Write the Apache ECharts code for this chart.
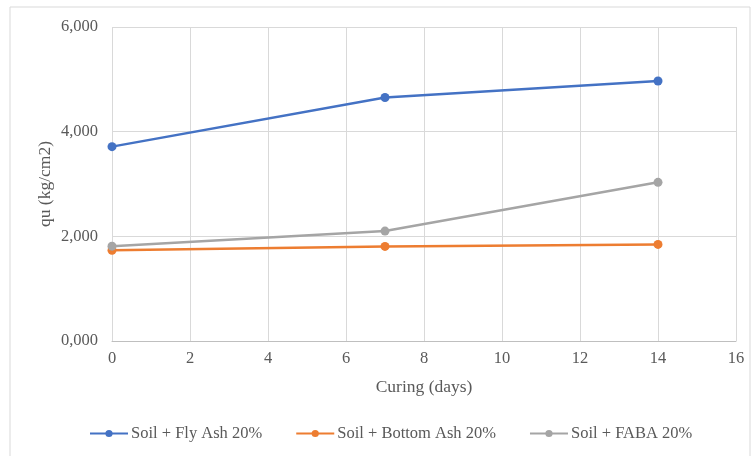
<!DOCTYPE html>
<html>
<head>
<meta charset="utf-8">
<script src="https://cdn.jsdelivr.net/npm/echarts@6/dist/echarts.min.js"></script>
<style>
  html, body { margin: 0; padding: 0; background: #fff; }
  #chart { width: 752px; height: 456px; }
</style>
</head>
<body>
<div id="chart"></div>
<script>
// Curing time (days) and unconfined compressive strength qu (kg/cm2)
const curingDays = [0, 7, 14];
const flyAsh = [3714, 4652, 4968];
const bottomAsh = [1733, 1808, 1846];
const faba = [1812, 2100, 3032];
const seriesNames = ['Soil + Fly Ash 20%', 'Soil + Bottom Ash 20%', 'Soil + FABA 20%'];
const seriesColors = ['#4472c4', '#ed7d31', '#a5a5a5'];

const font = 'Liberation Serif, Times New Roman, serif';

function fmtThousands(v) {
  const hi = Math.floor(v / 1000);
  const lo = String(Math.round(v % 1000)).padStart(3, '0');
  return hi + ',' + lo;
}

function makeSeries(name, values, color) {
  return {
    name: name,
    type: 'line',
    data: curingDays.map((d, i) => [d, values[i]]),
    symbol: 'circle',
    symbolSize: 9,
    lineStyle: { color: color, width: 2.5 },
    itemStyle: { color: color },
    smooth: false
  };
}

const chart = echarts.init(document.getElementById('chart'), null, { renderer: 'canvas' });
chart.setOption({
  animation: false,
  backgroundColor: '#fff',
  graphic: [{
    type: 'rect',
    shape: { x: 10, y: 7, width: 740, height: 460 },
    style: { fill: 'none', stroke: '#d9d9d9', lineWidth: 1 },
    silent: true
  }],
  grid: { left: 112, right: 16, top: 27, bottom: 115, containLabel: false },
  legend: {
    bottom: 9,
    left: 84,
    itemWidth: 38,
    itemHeight: 9,
    itemGap: 33,
    textStyle: { fontFamily: font, fontSize: 16.5, color: '#595959', padding: [0, 0, 0, -2] },
    data: seriesNames
  },
  xAxis: {
    type: 'value',
    min: 0, max: 16, interval: 2,
    name: 'Curing (days)',
    nameLocation: 'middle',
    nameGap: 37,
    nameTextStyle: { fontFamily: font, fontSize: 17.5, color: '#595959' },
    axisLine: { show: true, lineStyle: { color: '#bfbfbf', width: 1 } },
    axisTick: { show: false },
    axisLabel: { fontFamily: font, fontSize: 16.5, color: '#595959', margin: 9 },
    splitLine: { show: true, lineStyle: { color: '#d9d9d9', width: 1 } }
  },
  yAxis: {
    type: 'value',
    min: 0, max: 6000, interval: 2000,
    name: 'qu (kg/cm2)',
    nameLocation: 'middle',
    nameGap: 58,
    nameMoveOverlap: false,
    nameRotate: 90,
    nameTextStyle: { fontFamily: font, fontSize: 17.5, color: '#595959' },
    axisLine: { show: false },
    axisTick: { show: false },
    axisLabel: { fontFamily: font, fontSize: 16.5, color: '#595959', margin: 14, formatter: fmtThousands },
    splitLine: { show: true, lineStyle: { color: '#d9d9d9', width: 1 } }
  },
  series: [
    makeSeries(seriesNames[0], flyAsh, seriesColors[0]),
    makeSeries(seriesNames[1], bottomAsh, seriesColors[1]),
    makeSeries(seriesNames[2], faba, seriesColors[2])
  ]
});
</script>
</body>
</html>
